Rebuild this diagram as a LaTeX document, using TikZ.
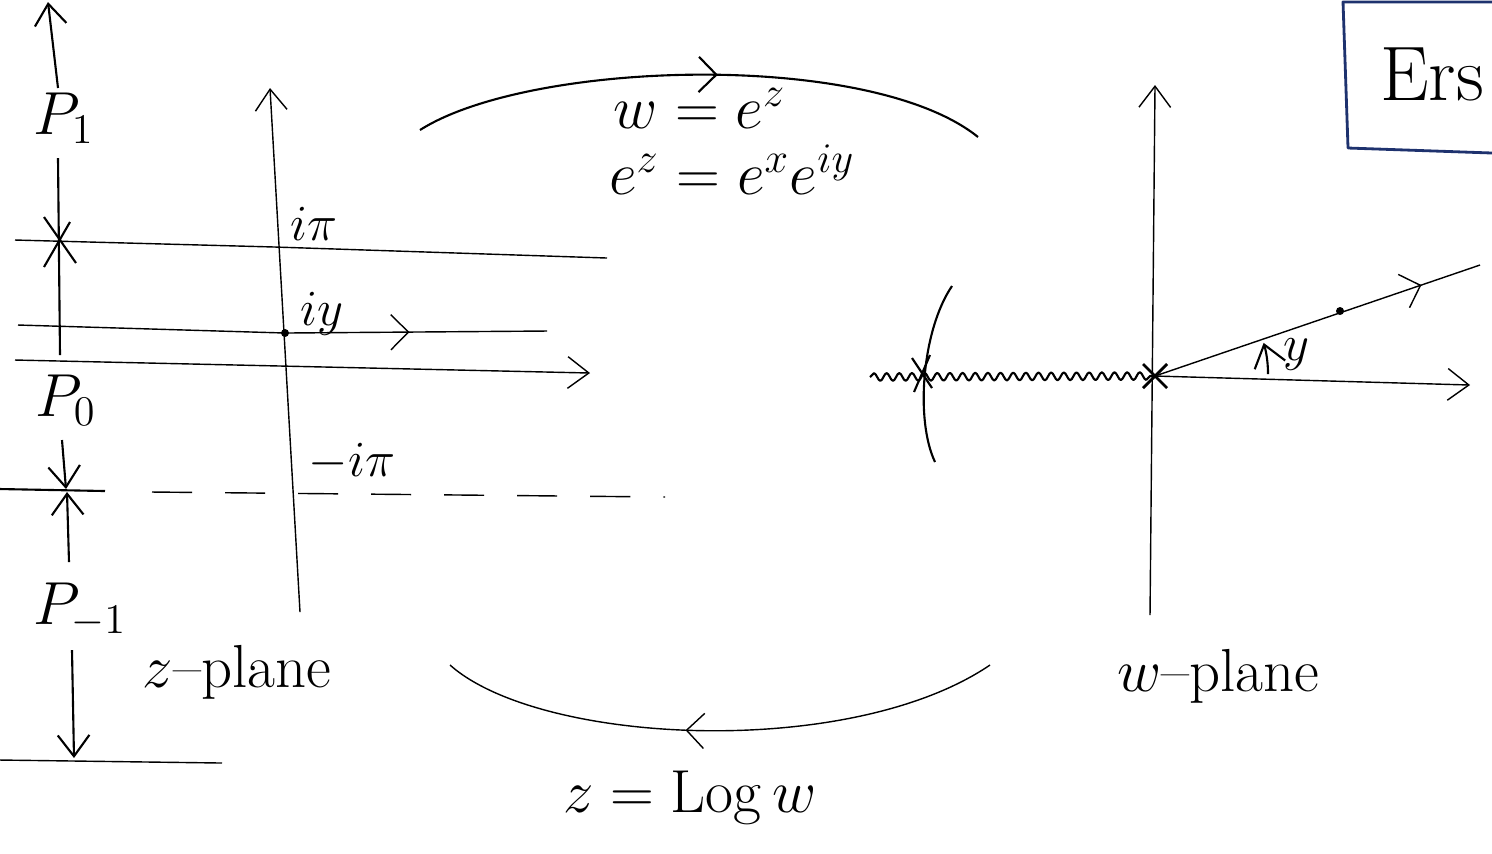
\documentclass[tikz,border=0pt]{standalone}
\usepackage{amsmath,amssymb}
\usetikzlibrary{arrows.meta,decorations.pathmorphing,decorations.markings}
\definecolor{boxblue}{RGB}{30,50,110}

\begin{document}
\begin{tikzpicture}[x=0.01cm,y=-0.01cm,line join=round,
  >={Straight Barb[length=6pt,width=9pt]},
  lbl/.style={font=\LARGE},
  small/.style={font=\Large},
  midarrow/.style={postaction={decorate},decoration={markings,
    mark=at position #1 with {\arrow{Straight Barb[length=5pt,width=10pt]}}}}]
  \useasboundingbox (0,0) rectangle (1492,853);
  % strip bookkeeping on the far left
  \draw[->,semithick] (58,88) -- (48,2);
  \node[lbl] (P1) at (64,118) {$P_1$};
  \draw[semithick] (58,158) -- (60,355);
  \draw[semithick] (44,217) -- (76,263) (70,222) -- (44,267);
  \node[lbl] (P0) at (66,400) {$P_0$};
  \draw[->,semithick] (62,440) -- (66,489);
  \draw[->,semithick] (69,562) -- (67,492);
  \node[lbl] (Pm1) at (80,610) {$P_{-1}$};
  \draw[->,semithick] (72,650) -- (74,758);
  \draw (0,760) -- (222,763);
  % z-plane
  \coordinate (zB) at (300,612);
  \coordinate (zT) at (270,88);
  \draw[->] (zB) -- (zT);
  \draw (15,240) -- (275,247) -- (607,258);
  \coordinate (iy) at (285,333);
  \draw[midarrow=0.74] (18,325) -- (iy) -- (547,331);
  \fill (iy) circle[radius=4];
  \draw[->] (15,360) -- (590,373);
  \draw[semithick] (0,489) -- (105,491);
  \draw[dash pattern=on 0.4cm off 0.33cm] (152,492) -- (665,497);
  \node[small] (ipi) at (314,224) {$i\pi$};
  \node[small] (iylbl) at (322,314) {$iy$};
  \node[small] (mipi) at (352,462) {$-i\pi$};
  \node[lbl] (zpl) at (237,672) {$z$--plane};
  % the two maps
  \coordinate (topL) at (420,130);
  \coordinate (topR) at (978,137);
  \draw[semithick,midarrow=0.53] (topL) .. controls (530,60) and (870,50) .. (topR);
  \node[lbl] (wez) at (700,108) {$w = e^z$};
  \node[lbl] (ezxy) at (732,170) {$e^z = e^x e^{iy}$};
  \coordinate (botR) at (990,665);
  \coordinate (botL) at (450,665);
  \draw[midarrow=0.56] (botR) .. controls (850,760) and (540,745) .. (botL);
  \node[lbl] (logw) at (690,798) {$z = \mathrm{Log}\, w$};
  % w-plane
  \coordinate (wO) at (1155,376);
  \draw[->] (1150,615) -- (1155,85);
  \draw[->] (wO) -- (1470,385);
  \draw[midarrow=0.82] (wO) -- (1480,265);
  \fill (1340,311) circle[radius=4];
  \draw[->,semithick] (1268,374) arc[start angle=0,end angle=-16,radius=113];
  \node[small] (ylbl) at (1296,354) {$y$};
  \draw[semithick,decorate,decoration={snake,segment length=3.6pt,amplitude=1.1pt}]
    (870,377) -- (wO);
  \draw[thick] (1143,364) -- (1167,388) (1167,364) -- (1143,388);
  \draw[semithick] (912,358) -- (932,388) (930,355) -- (914,392);
  \draw[semithick] (952,286) .. controls (922,330) and (915,420) .. (935,462);
  \node[lbl] (wpl) at (1218,676) {$w$--plane};
  % corner box
  \draw[boxblue,thick] (1492,2) -- (1343,2) -- (1348,148) -- (1492,153);
  \node[font=\fontsize{22}{24}\selectfont] (ers) at (1432,74) {Ers};
\end{tikzpicture}
\end{document}
